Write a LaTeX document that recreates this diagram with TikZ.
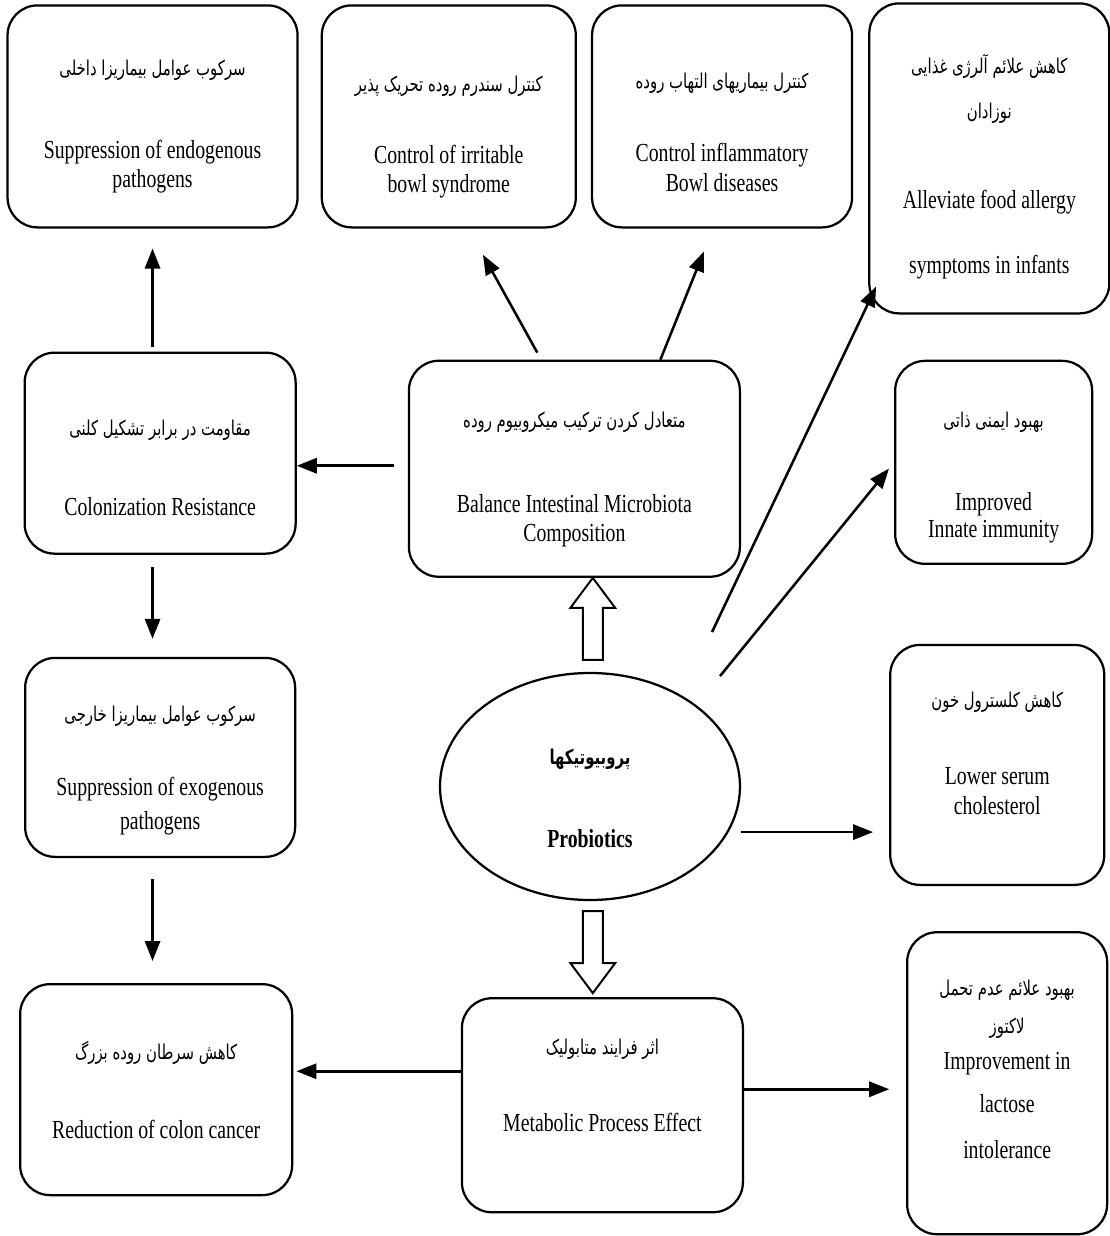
\documentclass[tikz,border=0pt]{standalone}
\usepackage{fontspec}
\setmainfont{Liberation Serif}[FakeStretch=0.76]
\newfontfamily\persianfont[Script=Arabic, FakeStretch=0.73]{DejaVu Sans}
\TeXXeTstate=1
\usepackage{tikz}
\usetikzlibrary{arrows.meta,positioning,shapes.geometric}

% Persian line; the optional argument is a strut that moves the text block down
\newcommand{\fa}[2][0pt]{\rule{0pt}{#1}{\persianfont\fontsize{14.5}{21}\selectfont\beginR #2\endR}}

\begin{document}
\begin{tikzpicture}[
  font=\fontsize{18.5}{21}\selectfont,
  effectbox/.style={draw, line width=1.6pt, rounded corners=0.75cm, align=center, inner sep=2pt},
  core/.style={draw, ellipse, line width=1.6pt, align=center, inner sep=0pt, minimum width=7.5cm, minimum height=5.675cm},
  textlift/.style={execute at end node={\rule[-#1]{0pt}{#1}}},
  arrow/.style={-{Triangle[length=5mm,width=3.8mm]}, line width=1.8pt},
  hollowup/.pic={\draw[line width=1.4pt, fill=white] (0,0) -- (-0.56,-0.75) -- (-0.25,-0.75) -- (-0.25,-2.05) -- (0.25,-2.05) -- (0.25,-0.75) -- (0.56,-0.75) -- cycle;}
]
\useasboundingbox (-14.75,-11.2375) rectangle (12.975,19.6625);

\node[core] (probiotics) {\fa[28.5pt]{\bfseries پروبیوتیکها}\\[38pt]\textbf{Probiotics}};
\node[effectbox, minimum width=8.275cm, minimum height=5.4cm, above=2.35cm of probiotics, xshift=-0.39cm] (balance) {\fa[26.5pt]{متعادل کردن ترکیب میکروبیوم روده}\\[39pt]Balance Intestinal Microbiota\\Composition};
\node[effectbox, textlift=28pt, minimum width=7.025cm, minimum height=5.35cm, below=2.4cm of probiotics, xshift=0.31cm] (metab) {\fa{اثر فرایند متابولیک}\\[34pt]Metabolic Process Effect};

\node[effectbox, minimum width=6.775cm, minimum height=5.025cm, left=2.775cm of balance, yshift=0.39cm] (colres) {\fa[32.5pt]{مقاومت در برابر تشکیل کلنی}\\[36pt]Colonization Resistance};
\node[effectbox, minimum width=7.25cm, minimum height=5.55cm, above=3.075cm of colres, xshift=-0.19cm] (endo) {\fa[25.5pt]{سرکوب عوامل بیماریزا داخلی}\\[38pt]Suppression of endogenous\\pathogens};
\node[effectbox, minimum width=6.75cm, minimum height=4.975cm, below=2.55cm of colres] (exo) {\fa[29.5pt]{سرکوب عوامل بیماریزا خارجی}\\[32pt]Suppression of exogenous\\[3pt]pathogens};
\node[effectbox, minimum width=6.8cm, minimum height=5.275cm, below=3.125cm of exo, xshift=-0.1cm] (colon) {\fa{کاهش سرطان روده بزرگ}\\[35pt]Reduction of colon cancer};

\node[effectbox, minimum width=6.35cm, minimum height=5.55cm, right=0.55cm of endo] (ibs) {\fa[40.5pt]{کنترل سندرم روده تحریک پذیر}\\[30pt]Control of irritable\\bowl syndrome};
\node[effectbox, minimum width=6.5cm, minimum height=5.55cm, right=0.35cm of ibs] (ibd) {\fa[33.5pt]{کنترل بیماریهای التهاب روده}\\[31pt]Control inflammatory\\Bowl diseases};
\node[effectbox, minimum width=6cm, minimum height=7.75cm, right=0.375cm of ibd, yshift=-1.05cm] (allergy) {\fa[25.5pt]{کاهش علائم آلرژی غذایی}\\[11pt]\fa{نوزادان}\\[43pt]Alleviate food allergy\\[25pt]symptoms in infants};

\node[effectbox, minimum width=4.925cm, minimum height=5.075cm, right=3.825cm of balance, yshift=0.16cm] (immunity) {\fa[32.5pt]{بهبود ایمنی ذاتی}\\[38pt]Improved\\[-2pt]Innate immunity};
\node[effectbox, textlift=17pt, minimum width=5.35cm, minimum height=6cm, right=3.7cm of probiotics, yshift=0.54cm] (cholesterol) {\fa{کاهش کلسترول خون}\\[34pt]Lower serum\\cholesterol};
\node[effectbox, textlift=20pt, minimum width=5cm, minimum height=7.55cm, right=4.05cm of metab, yshift=0.55cm] (lactose) {\fa{بهبود علائم عدم تحمل}\\[6pt]\fa{لاکتوز}\\[5pt]Improvement in\\[9.5pt]lactose\\[12pt]intolerance};

\coordinate (s1) at ([shift={(3.05,3.86)}]probiotics.center);
\coordinate (s2) at ([shift={(3.25,2.76)}]probiotics.center);

\draw[arrow, shorten <=0.12cm, shorten >=0.5cm] (colres.north -| endo.south) -- (endo.south);
\draw[arrow, shorten <=0.3cm, shorten >=0.45cm] (colres.south -| endo.south) -- (exo.north -| endo.south);
\draw[arrow, shorten <=0.525cm, shorten >=0.55cm] (exo.south -| endo.south) -- (colon.north -| endo.south);
\draw[arrow, shorten <=0.35cm] ([yshift=0.075cm]balance.west) -- ([yshift=0.075cm]balance.west -| colres.east);
\draw[arrow, shorten <=0.2cm, shorten >=0.75cm] ([xshift=-0.83cm]balance.north) -- ([xshift=0.49cm]ibs.south);
\draw[arrow, shorten >=0.62cm] ([xshift=2.15cm]balance.north) -- ([xshift=-0.22cm]ibd.south);
\draw[arrow] (s1) -- ([shift={(0.2,0.7)}]allergy.south west);
\draw[arrow, shorten >=0.2cm] (s2) -- (immunity.west);
\draw[arrow, shorten >=0.4cm] ([yshift=-1.14cm]probiotics.east) -- ([yshift=-1.14cm]probiotics.east -| cholesterol.west);
\draw[arrow, shorten >=0.08cm] ([yshift=0.85cm]metab.west) -- ([yshift=0.85cm]metab.west -| colon.east);
\draw[arrow, shorten >=0.42cm] ([yshift=0.4cm]metab.east) -- ([yshift=0.4cm]metab.east -| lactose.west);

\pic at ([xshift=0.46cm]balance.south) {hollowup};
\pic[rotate=180] at ([xshift=-0.24cm,yshift=0.1cm]metab.north) {hollowup};
\end{tikzpicture}
\end{document}
